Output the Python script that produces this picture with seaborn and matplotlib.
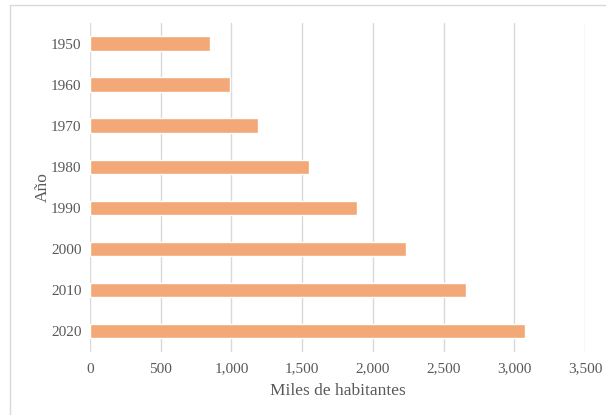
import matplotlib
matplotlib.use("Agg")
import matplotlib.pyplot as plt
import seaborn as sns
import pandas as pd
from matplotlib.patches import Rectangle

years = ["1950", "1960", "1970", "1980", "1990", "2000", "2010", "2020"]
habitantes = [848, 992, 1191, 1548, 1885, 2232, 2662, 3078]
x_ticks = [0, 500, 1000, 1500, 2000, 2500, 3000, 3500]

df = pd.DataFrame({"Año": years, "Miles de habitantes": habitantes})

sns.set_theme(style="white")
plt.rcParams["font.family"] = ["Liberation Serif", "DejaVu Serif"]

fig = plt.figure(figsize=(6.06, 4.15), dpi=100)
ax = fig.add_axes([90/606, 1-351.5/415, 495/606, (351.5-23)/415])

sns.barplot(data=df, y="Año", x="Miles de habitantes", orient="h",
            color="#F2A877", width=0.35, saturation=1, ax=ax, zorder=3)

ax.set_xlim(0, 3500)
ax.set_ylim(7.5, -0.5)
ax.set_xticks(x_ticks)
ax.set_xticklabels([f"{v:,}" for v in x_ticks])
ax.xaxis.grid(True, color="#D9D9D9", linewidth=1)
ax.yaxis.grid(False)
ax.set_axisbelow(True)
for s in ax.spines.values():
    s.set_visible(False)
ax.tick_params(axis="both", length=0, labelsize=11, labelcolor="#595959")
ax.tick_params(axis="y", pad=6)
ax.tick_params(axis="x", pad=8)
ax.set_xlabel("Miles de habitantes", fontsize=12.5, color="#595959", labelpad=5)
ax.set_ylabel("Año", fontsize=12.5, color="#595959", labelpad=0)

fig.patches.append(Rectangle((10/606, -0.1), 1.2, 1 - 5/415 + 0.1,
                             transform=fig.transFigure, fill=False,
                             edgecolor="#D9D9D9", linewidth=1))

fig.savefig("out.png", dpi=100)
